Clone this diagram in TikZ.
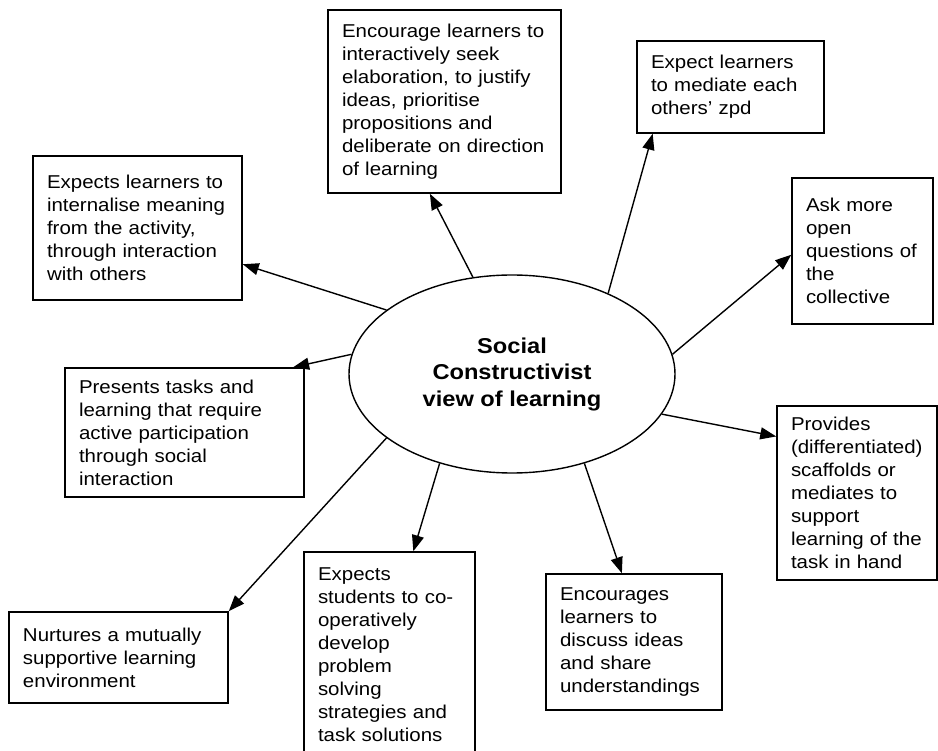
\documentclass[tikz,border=0pt]{standalone}
\usepackage{fontspec}
\setmainfont{Liberation Sans}[FakeStretch=1.1]
\usetikzlibrary{arrows.meta,shapes.geometric}

\begin{document}
\begin{tikzpicture}[x=1pt,y=-1pt,
  box/.style={draw,line width=1.5pt,align=left,inner xsep=14pt,inner ysep=0pt,
    font=\fontsize{18.6}{23}\selectfont},
  arr/.style={-{Triangle[length=16pt,width=12pt]},line width=1.4pt}]
  \clip (0,0) rectangle (938,751);
  \node[draw,ellipse,line width=1.4pt,minimum width=326pt,minimum height=198pt,align=center,
    font=\bfseries\fontsize{21.5}{26.5}\selectfont] (view) at (512,374)
    {Social\\Constructivist\\view of learning};
  \node[box,text width=205pt,minimum height=183pt] (seek) at (444.5,101.5)
    {Encourage learners to\\interactively seek\\elaboration, to justify\\ideas, prioritise\\propositions and\\deliberate on direction\\of learning};
  \node[box,text width=159pt,minimum height=92pt] (zpd) at (730.5,87)
    {Expect learners\\to mediate each\\others' zpd};
  \node[box,text width=113pt,minimum height=146pt] (open) at (862.5,251)
    {Ask more\\open\\questions of\\the\\collective};
  \node[box,text width=181pt,minimum height=144pt] (inter) at (137.5,228)
    {Expects learners to\\internalise meaning\\from the activity,\\through interaction\\with others};
  \node[box,text width=211pt,minimum height=129pt] (tasks) at (184.5,432.5)
    {Presents tasks and\\learning that require\\active participation\\through social\\interaction};
  \node[box,text width=191pt,minimum height=91pt] (nurture) at (118.5,657.5)
    {Nurtures a mutually\\supportive learning\\environment};
  \node[box,text width=143pt,minimum height=205pt] (coop) at (389.5,654.5)
    {Expects\\students to co-\\operatively\\develop\\problem\\solving\\strategies and\\task solutions};
  \node[box,text width=148pt,minimum height=136pt] (share) at (634,642)
    {Encourages\\learners to\\discuss ideas\\and share\\understandings};
  \node[box,text width=132pt,minimum height=174pt] (scaff) at (857,493)
    {Provides\\(differentiated)\\scaffolds or\\mediates to\\support\\learning of the\\task in hand};
  \draw[arr] (view.112) -- (seek.261);
  \draw[arr] (view.40) -- (zpd.211);
  \draw[arr] (view.7) -- (open.183);
  \draw[arr] (view.153) -- (inter.-19.5);
  \draw[arr] (view.173) -- (tasks.31);
  \draw[arr] (view.-15.5) -- (scaff.145);
  \draw[arr] (view.-51) -- (share.100);
  \draw[arr] (view.-129) -- (coop.77);
  \draw[arr] (view.207) -- (nurture.north east);
\end{tikzpicture}
\end{document}
